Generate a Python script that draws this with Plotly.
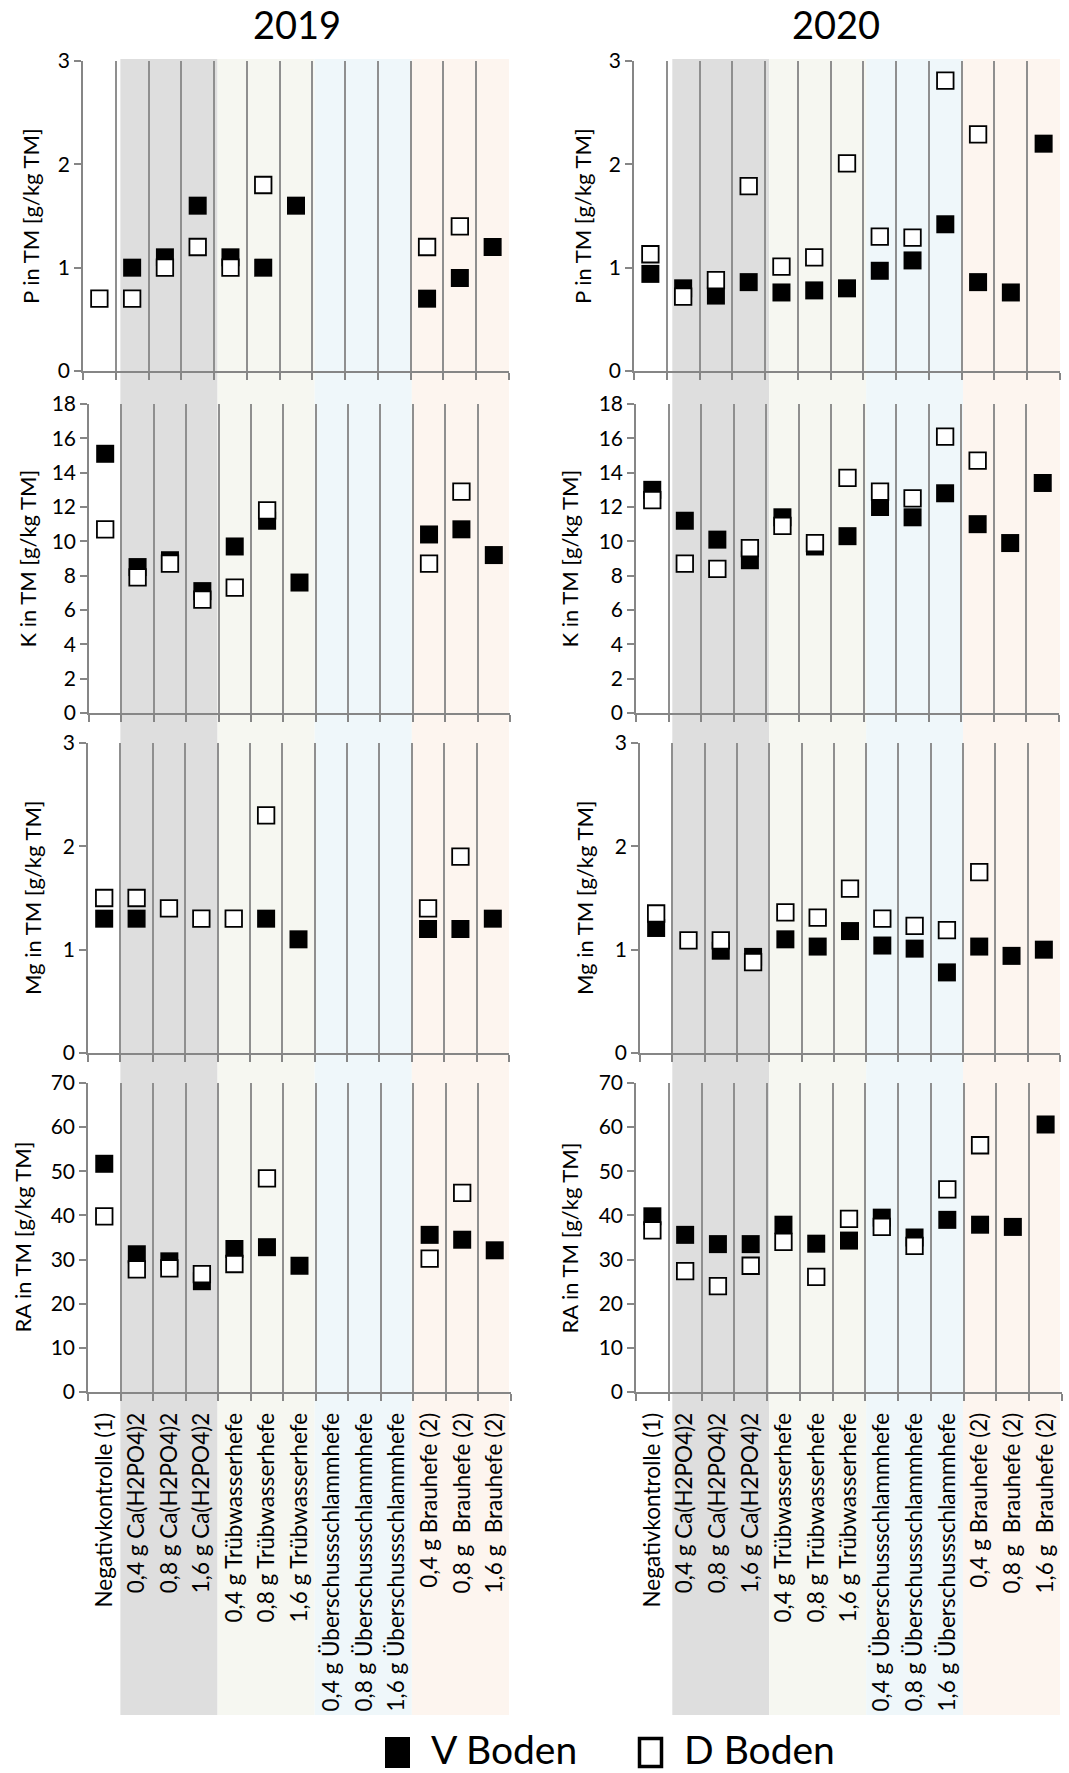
import plotly.graph_objects as go

W, H = 1069, 1773

categories = [
    "Negativkontrolle (1)",
    "0,4 g Ca(H2PO4)2",
    "0,8 g Ca(H2PO4)2",
    "1,6 g Ca(H2PO4)2",
    "0,4 g Trübwasserhefe",
    "0,8 g Trübwasserhefe",
    "1,6 g Trübwasserhefe",
    "0,4 g Überschussschlammhefe",
    "0,8 g Überschussschlammhefe",
    "1,6 g Überschussschlammhefe",
    "0,4 g Brauhefe (2)",
    "0,8 g\u00a0 Brauhefe (2)",
    "1,6 g\u00a0 Brauhefe (2)",
]
years = ["2019", "2020"]
series_names = ["V Boden", "D Boden"]

N = None
# ---- 2019 ----
p_v_2019 = [N, 1.0, 1.1, 1.6, 1.1, 1.0, 1.6, N, N, N, 0.7, 0.9, 1.2]
p_d_2019 = [0.7, 0.7, 1.0, 1.2, 1.0, 1.8, N, N, N, N, 1.2, 1.4, N]
k_v_2019 = [15.1, 8.5, 8.9, 7.1, 9.7, 11.2, 7.6, N, N, N, 10.4, 10.7, 9.2]
k_d_2019 = [10.7, 7.9, 8.7, 6.6, 7.3, 11.8, N, N, N, N, 8.7, 12.9, N]
mg_v_2019 = [1.3, 1.3, N, N, N, 1.3, 1.1, N, N, N, 1.2, 1.2, 1.3]
mg_d_2019 = [1.5, 1.5, 1.4, 1.3, 1.3, 2.3, N, N, N, N, 1.4, 1.9, N]
ra_v_2019 = [51.7, 31.2, 29.6, 25.1, 32.4, 32.8, 28.6, N, N, N, 35.6, 34.5, 32.1]
ra_d_2019 = [39.8, 27.8, 28.0, 26.7, 29.0, 48.4, N, N, N, N, 30.2, 45.1, N]
# ---- 2020 ----
p_v_2020 = [0.94, 0.80, 0.73, 0.86, 0.76, 0.78, 0.80, 0.97, 1.07, 1.42, 0.86, 0.76, 2.20]
p_d_2020 = [1.13, 0.72, 0.88, 1.79, 1.01, 1.10, 2.01, 1.30, 1.29, 2.81, 2.29, N, N]
k_v_2020 = [13.0, 11.2, 10.1, 8.9, 11.4, 9.7, 10.3, 12.0, 11.4, 12.8, 11.0, 9.9, 13.4]
k_d_2020 = [12.4, 8.7, 8.4, 9.6, 10.9, 9.9, 13.7, 12.9, 12.5, 16.1, 14.7, N, N]
mg_v_2020 = [1.21, N, 0.99, 0.93, 1.10, 1.03, 1.18, 1.04, 1.01, 0.78, 1.03, 0.94, 1.00]
mg_d_2020 = [1.35, 1.09, 1.09, 0.88, 1.36, 1.31, 1.59, 1.30, 1.23, 1.19, 1.75, N, N]
ra_v_2020 = [39.8, 35.6, 33.5, 33.5, 37.9, 33.6, 34.3, 39.5, 35.0, 39.0, 37.9, 37.4, 60.6]
ra_d_2020 = [36.6, 27.4, 24.0, 28.6, 34.0, 26.1, 39.2, 37.4, 33.1, 45.9, 55.9, N, N]

panel_titles = ["P in TM [g/kg TM]", "K in TM [g/kg TM]", "Mg in TM [g/kg TM]", "RA in TM [g/kg TM]"]
panel_ymax = [3, 18, 3, 70]
panel_dtick = [1, 2, 1, 10]

data = [
    [(p_v_2019, p_d_2019), (p_v_2020, p_d_2020)],
    [(k_v_2019, k_d_2019), (k_v_2020, k_d_2020)],
    [(mg_v_2019, mg_d_2019), (mg_v_2020, mg_d_2020)],
    [(ra_v_2019, ra_d_2019), (ra_v_2020, ra_d_2020)],
]

# group bands (first, last category index) and colours
band_groups = [(1, 3), (4, 6), (7, 9), (10, 12)]
band_colors = ["#dedede", "#f6f7f1", "#eff7fa", "#fdf5ef"]

# ---------- layout geometry (pixels) ----------
x_dom_px = [
    [(83, 509), (634, 1060)],
    [(89, 510), (636, 1059)],
    [(88, 509), (640, 1060)],
    [(88, 511), (636, 1062)],
]
y_dom_px = [(61, 371), (404, 713), (743, 1053), (1083, 1392)]
ytitle_x_px = [(30, 582), (27, 569), (33, 585), (22, 569)]

FONT = "Lato"
AXC = "#868686"
GRIDC = "#8f8f8f"


def fx(x):
    return x / W


def fy(y):
    return 1 - y / H


fig = go.Figure()
layout = dict(
    width=W, height=H,
    margin=dict(l=0, r=0, t=0, b=0),
    paper_bgcolor="white", plot_bgcolor="rgba(0,0,0,0)",
    showlegend=False,
    font=dict(family=FONT, color="black"),
)
annotations = []
shapes = []

for r in range(4):
    for c in range(2):
        n = r * 2 + c + 1
        xs = "" if n == 1 else str(n)
        vvals, dvals = data[r][c]
        fig.add_trace(go.Scatter(
            x=list(range(len(categories))), y=vvals, mode="markers",
            name=series_names[0], xaxis="x" + xs, yaxis="y" + xs,
            marker=dict(symbol="square", size=18, color="black", line=dict(width=0)),
            cliponaxis=False,
        ))
        fig.add_trace(go.Scatter(
            x=list(range(len(categories))), y=dvals, mode="markers",
            name=series_names[1], xaxis="x" + xs, yaxis="y" + xs,
            marker=dict(symbol="square", size=16.5, color="white", line=dict(width=1.8, color="black")),
            cliponaxis=False,
        ))
        x0, x1 = x_dom_px[r][c]
        ytop, ybot = y_dom_px[r]
        layout["xaxis" + xs] = dict(
            domain=[fx(x0), fx(x1)], range=[-0.5, len(categories) - 0.5],
            anchor="y" + xs,
            tickmode="array", tickvals=list(range(len(categories))),
            ticktext=categories, showticklabels=(r == 3), tickangle=-90,
            ticks="", ticklabelstandoff=10,
            tickfont=dict(family=FONT, size=22.5, color="black"),
            showgrid=False, zeroline=False,
            showline=True, linecolor=AXC, linewidth=1.5,
            minor=dict(tickmode="array",
                       tickvals=[i - 0.5 for i in range(len(categories) + 1)],
                       ticks="outside", ticklen=7, tickcolor=AXC, tickwidth=1.5,
                       showgrid=True, gridcolor=GRIDC, gridwidth=1.5),
            automargin=False, fixedrange=True,
        )
        layout["yaxis" + xs] = dict(
            domain=[fy(ybot), fy(ytop)], range=[0, panel_ymax[r]],
            anchor="x" + xs,
            tickmode="linear", tick0=0, dtick=panel_dtick[r],
            ticks="outside", ticklen=7, tickcolor=AXC, tickwidth=1.5,
            showline=True, linecolor=AXC, linewidth=1.5,
            showgrid=False, zeroline=False,
            tickfont=dict(family=FONT, size=21, color="black"),
            automargin=False, fixedrange=True,
        )
        annotations.append(dict(
            text=panel_titles[r], textangle=-90, showarrow=False,
            xref="paper", yref="paper",
            x=fx(ytitle_x_px[r][c]), y=fy((ytop + ybot) / 2),
            xanchor="center", yanchor="middle",
            font=dict(family=FONT, size=22, color="black"),
        ))

# background bands spanning the whole column (aligned with Mg-row categories)
for c in range(2):
    n = 2 * 2 + c + 1
    xs = "x" + str(n)
    for (g0, g1), col in zip(band_groups, band_colors):
        shapes.append(dict(
            type="rect", xref=xs, yref="paper",
            x0=g0 - 0.5, x1=g1 + 0.5, y0=fy(1715), y1=fy(59),
            fillcolor=col, line=dict(width=0), layer="below",
        ))

# year titles
for c, (yr, xc) in enumerate(zip(years, [297, 836])):
    annotations.append(dict(
        text=yr, showarrow=False, xref="paper", yref="paper",
        x=fx(xc), y=fy(24), xanchor="center", yanchor="middle",
        font=dict(family=FONT, size=38, color="black"),
    ))

# legend (drawn manually)
shapes.append(dict(type="rect", xref="paper", yref="paper",
                   x0=fx(385), x1=fx(410), y0=fy(1768), y1=fy(1737),
                   fillcolor="black", line=dict(width=0)))
shapes.append(dict(type="rect", xref="paper", yref="paper",
                   x0=fx(639.5), x1=fx(661.5), y0=fy(1766.5), y1=fy(1738.5),
                   fillcolor="white", line=dict(width=3.5, color="black")))
annotations.append(dict(text=series_names[0], showarrow=False, xref="paper", yref="paper",
                        x=fx(430), y=fy(1773), xanchor="left", yanchor="bottom", borderpad=0,
                        font=dict(family=FONT, size=39, color="black")))
annotations.append(dict(text=series_names[1], showarrow=False, xref="paper", yref="paper",
                        x=fx(683), y=fy(1773), xanchor="left", yanchor="bottom", borderpad=0,
                        font=dict(family=FONT, size=39, color="black")))

layout["annotations"] = annotations
layout["shapes"] = shapes
fig.update_layout(**layout)
fig.write_html("out.html")
